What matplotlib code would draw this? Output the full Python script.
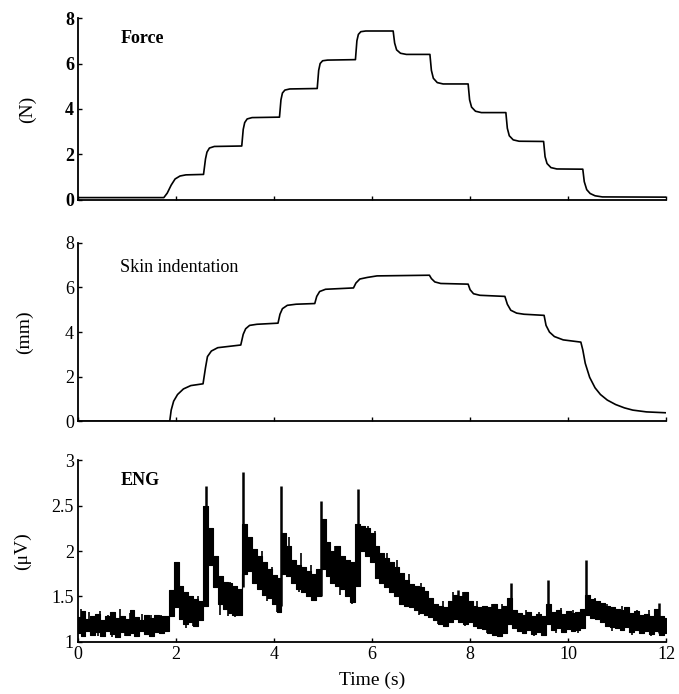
import matplotlib
matplotlib.use("Agg")
import matplotlib.pyplot as plt
import numpy as np

# ---------------- data ----------------
force_t = [0.0, 1.75, 1.82, 1.90, 1.98, 2.08, 2.20,
           2.56, 2.60, 2.63, 2.68, 2.78,
           3.34, 3.37, 3.40, 3.45, 3.55,
           4.11, 4.14, 4.17, 4.22, 4.32,
           4.88, 4.91, 4.94, 4.99, 5.09,
           5.66, 5.69, 5.72, 5.77, 5.87,
           6.43, 6.46, 6.50, 6.58, 6.70,
           7.18, 7.21, 7.25, 7.33, 7.45,
           7.96, 7.99, 8.03, 8.11, 8.23,
           8.73, 8.76, 8.80, 8.88, 9.00,
           9.50, 9.53, 9.57, 9.65, 9.77,
           10.30, 10.33, 10.38, 10.45, 10.55, 10.70, 12.0]
force_v = [0.10, 0.10, 0.30, 0.65, 0.92, 1.05, 1.10,
           1.12, 1.80, 2.10, 2.28, 2.35,
           2.37, 3.10, 3.40, 3.56, 3.62,
           3.64, 4.40, 4.70, 4.83, 4.88,
           4.90, 5.70, 6.00, 6.12, 6.15,
           6.17, 7.00, 7.28, 7.40, 7.43,
           7.43, 6.90, 6.60, 6.45, 6.40,
           6.40, 5.70, 5.35, 5.16, 5.10,
           5.10, 4.40, 4.08, 3.90, 3.84,
           3.84, 3.15, 2.82, 2.64, 2.58,
           2.57, 1.90, 1.60, 1.42, 1.36,
           1.35, 0.80, 0.45, 0.28, 0.18, 0.13, 0.12]

skin_t = [0.0, 1.87, 1.90, 1.95, 2.03, 2.15, 2.30, 2.55,
          2.60, 2.64, 2.72, 2.85, 3.32,
          3.37, 3.42, 3.50, 3.65, 4.08,
          4.12, 4.17, 4.27, 4.45, 4.83,
          4.87, 4.93, 5.05, 5.62,
          5.67, 5.75, 5.90, 6.10, 7.17,
          7.21, 7.28, 7.40, 7.96,
          8.00, 8.07, 8.20, 8.71,
          8.76, 8.83, 8.95, 9.10, 9.51,
          9.55, 9.62, 9.72, 9.90, 10.26,
          10.30, 10.35, 10.44, 10.55, 10.66, 10.80, 10.97, 11.15, 11.32, 11.60, 12.0]
skin_v = [0.0, 0.0, 0.50, 0.90, 1.20, 1.45, 1.60, 1.68,
          2.40, 2.90, 3.15, 3.30, 3.42,
          3.90, 4.15, 4.30, 4.35, 4.40,
          4.80, 5.05, 5.20, 5.25, 5.28,
          5.60, 5.82, 5.92, 5.98,
          6.20, 6.38, 6.45, 6.52, 6.55,
          6.40, 6.25, 6.18, 6.15,
          5.90, 5.72, 5.65, 5.60,
          5.25, 4.98, 4.85, 4.80, 4.75,
          4.30, 4.00, 3.80, 3.65, 3.55,
          3.20, 2.60, 1.97, 1.50, 1.20, 0.95, 0.75, 0.60, 0.50, 0.42, 0.38]

# ENG: band envelope sampled every 0.1 s
eng_t = [i / 10 for i in range(121)]
eng_upper = [1.27, 1.34, 1.25, 1.28, 1.31, 1.24, 1.29, 1.33, 1.26, 1.29,
             1.25, 1.35, 1.27, 1.24, 1.30, 1.26, 1.30, 1.28, 1.29, 1.57,
             1.88, 1.62, 1.55, 1.50, 1.47, 1.45, 2.50, 2.25, 1.95, 1.72,
             1.66, 1.65, 1.62, 1.58, 2.30, 2.15, 2.02, 1.95, 1.88, 1.80,
             1.74, 1.70, 2.20, 2.05, 1.90, 1.85, 1.82, 1.78, 1.75, 1.80,
             2.35, 2.10, 2.00, 2.05, 1.95, 1.90, 1.88, 2.30, 2.27, 2.25,
             2.20, 2.05, 1.98, 1.92, 1.88, 1.82, 1.76, 1.68, 1.64, 1.62,
             1.60, 1.56, 1.48, 1.42, 1.40, 1.38, 1.45, 1.52, 1.50, 1.55,
             1.45, 1.40, 1.38, 1.40, 1.38, 1.42, 1.36, 1.40, 1.48, 1.35,
             1.32, 1.30, 1.33, 1.29, 1.31, 1.28, 1.42, 1.33, 1.35, 1.31,
             1.34, 1.32, 1.33, 1.36, 1.52, 1.47, 1.45, 1.43, 1.40, 1.38,
             1.36, 1.35, 1.38, 1.32, 1.34, 1.30, 1.31, 1.29, 1.36, 1.28,
             1.26]
eng_lower = [1.10, 1.06, 1.12, 1.08, 1.11, 1.07, 1.12, 1.09, 1.05, 1.11,
             1.08, 1.10, 1.06, 1.12, 1.09, 1.07, 1.11, 1.10, 1.12, 1.28,
             1.38, 1.25, 1.20, 1.22, 1.18, 1.24, 1.40, 1.85, 1.60, 1.42,
             1.36, 1.32, 1.30, 1.30, 1.75, 1.78, 1.65, 1.58, 1.52, 1.48,
             1.42, 1.33, 1.75, 1.72, 1.65, 1.58, 1.55, 1.50, 1.46, 1.50,
             1.80, 1.72, 1.65, 1.62, 1.58, 1.50, 1.44, 1.62, 2.00, 1.95,
             1.88, 1.70, 1.65, 1.60, 1.55, 1.50, 1.42, 1.40, 1.38, 1.35,
             1.32, 1.30, 1.27, 1.24, 1.20, 1.18, 1.22, 1.25, 1.22, 1.20,
             1.22, 1.18, 1.15, 1.14, 1.10, 1.08, 1.06, 1.10, 1.20, 1.15,
             1.12, 1.10, 1.13, 1.09, 1.11, 1.08, 1.20, 1.13, 1.15, 1.11,
             1.14, 1.12, 1.13, 1.15, 1.30, 1.26, 1.25, 1.22, 1.18, 1.16,
             1.15, 1.13, 1.16, 1.11, 1.13, 1.10, 1.12, 1.09, 1.12, 1.08,
             1.10]
# large transient spikes
spike_t = [1.98, 2.62, 3.36, 4.15, 4.95, 5.72, 7.75, 8.83, 9.60, 10.37, 11.85]
spike_peak = [1.88, 2.71, 2.87, 2.71, 2.55, 2.68, 1.57, 1.65, 1.68, 1.90, 1.43]
spike_base = [1.40, 1.40, 1.60, 1.40, 1.50, 1.62, 1.25, 1.20, 1.20, 1.30, 1.10]
# small noise excursions (time, low end, high end)
noise_t = [0.05, 0.15, 0.22, 0.40, 0.45, 0.62, 0.70, 0.85, 0.95, 1.05, 1.20, 1.30,
           1.48, 1.55, 1.70, 2.10, 2.20, 2.25, 2.35, 2.45, 2.90, 2.95, 3.05, 3.10,
           3.20, 3.25, 3.55, 3.75, 3.85, 3.95, 4.05, 4.30, 4.50, 4.55, 4.75, 4.85,
           5.25, 5.35, 5.45, 5.60, 5.92, 6.05, 6.15, 6.30, 6.50, 6.60, 6.75, 6.95,
           7.00, 7.35, 7.45, 7.65, 7.85, 7.90, 8.15, 8.35, 8.45, 8.60, 8.65, 9.15,
           9.30, 9.40, 9.75, 9.85, 10.10, 10.20, 10.55, 10.80, 10.90, 11.10, 11.30,
           11.40, 11.65, 11.70, 11.95]
noise_lo = [1.18, 1.05, 1.18, 1.06, 1.18, 1.18, 1.05, 1.18, 1.06, 1.18, 1.07, 1.18,
            1.18, 1.06, 1.18, 1.35, 1.15, 1.30, 1.17, 1.30, 1.30, 1.45, 1.28, 1.45,
            1.27, 1.42, 1.80, 1.70, 1.45, 1.60, 1.33, 1.85, 1.55, 1.70, 1.60, 1.45,
            1.75, 1.52, 1.70, 1.42, 2.05, 1.95, 1.72, 1.75, 1.65, 1.42, 1.55, 1.30,
            1.45, 1.20, 1.30, 1.35, 1.35, 1.18, 1.28, 1.10, 1.25, 1.05, 1.25, 1.20,
            1.07, 1.20, 1.10, 1.22, 1.22, 1.10, 1.35, 1.28, 1.12, 1.25, 1.08,
            1.20, 1.20, 1.06, 1.08]
noise_hi = [1.36, 1.18, 1.33, 1.18, 1.34, 1.30, 1.18, 1.36, 1.18, 1.32, 1.18, 1.31,
            1.30, 1.18, 1.30, 1.60, 1.35, 1.55, 1.35, 1.50, 1.50, 1.68, 1.45, 1.66,
            1.45, 1.62, 2.10, 2.00, 1.70, 1.82, 1.55, 2.15, 1.75, 1.98, 1.85, 1.65,
            2.05, 1.80, 1.95, 1.70, 2.28, 2.22, 1.95, 1.98, 1.90, 1.62, 1.75, 1.50,
            1.65, 1.35, 1.45, 1.55, 1.55, 1.35, 1.45, 1.28, 1.42, 1.25, 1.42, 1.35,
            1.22, 1.33, 1.25, 1.37, 1.35, 1.25, 1.48, 1.42, 1.28, 1.40, 1.22,
            1.35, 1.35, 1.20, 1.20]

x_ticks = [0, 2, 4, 6, 8, 10, 12]
force_ticks = [0, 2, 4, 6, 8]
skin_ticks = [0, 2, 4, 6, 8]
eng_ticks = [1, 1.5, 2, 2.5, 3]
eng_ticklabels = ["1", "1.5", "2", "2.5", "3"]

# ---------------- figure ----------------
plt.rcParams['font.family'] = ['Liberation Serif', 'DejaVu Serif']
fig = plt.figure(figsize=(6.79, 6.94), dpi=100)
L, W = 0.115, 0.866
ax1 = fig.add_axes([L, 0.712, W, 0.262])
ax2 = fig.add_axes([L, 0.393, W, 0.257])
ax3 = fig.add_axes([L, 0.075, W, 0.262])

for ax in (ax1, ax2, ax3):
    ax.spines['top'].set_visible(False)
    ax.spines['right'].set_visible(False)
    for s in ('left', 'bottom'):
        ax.spines[s].set_linewidth(1.3)
    ax.set_xlim(0, 12)
    ax.set_xticks(x_ticks)
    ax.tick_params(direction='in', length=3, width=1.0, labelsize=13, pad=3)

# Force
ax1.plot(force_t, force_v, color='black', lw=1.2)
ax1.set_ylim(0, 8)
ax1.set_yticks(force_ticks)
ax1.set_yticklabels([str(v) for v in force_ticks], fontweight='bold')
ax1.tick_params(axis='x', labelbottom=False)
ax1.set_ylabel('(N)', fontsize=14)
ax1.yaxis.set_label_coords(-0.072, 0.5)
ax1.text(0.86, 7.1, 'Force', fontsize=13, fontweight='bold', va='center')

# Skin indentation
ax2.plot(skin_t, skin_v, color='black', lw=1.2)
ax2.set_ylim(0, 8)
ax2.set_yticks(skin_ticks)
ax2.tick_params(axis='x', labelbottom=False)
ax2.set_ylabel('(mm)', fontsize=14)
ax2.yaxis.set_label_coords(-0.076, 0.5)
ax2.text(0.86, 6.9, 'Skin indentation', fontsize=13, va='center')

# ENG
ax3.fill_between(eng_t, eng_lower, eng_upper, step='mid', color='black', lw=0.8)
ax3.vlines(noise_t, noise_lo, noise_hi, color='black', lw=1.2)
ax3.vlines(spike_t, spike_base, spike_peak, color='black', lw=1.8)
ax3.set_ylim(1, 3)
ax3.set_yticks(eng_ticks)
ax3.set_yticklabels(eng_ticklabels)
ax3.set_ylabel('(\u03bcV)', fontsize=14)
ax3.yaxis.set_label_coords(-0.08, 0.5)
ax3.set_xlabel('Time (s)', fontsize=14)
ax3.xaxis.set_label_coords(0.5, -0.165)
ax3.text(0.86, 2.78, 'ENG', fontsize=13, fontweight='bold', va='center')

fig.savefig('out.png', dpi=100)
